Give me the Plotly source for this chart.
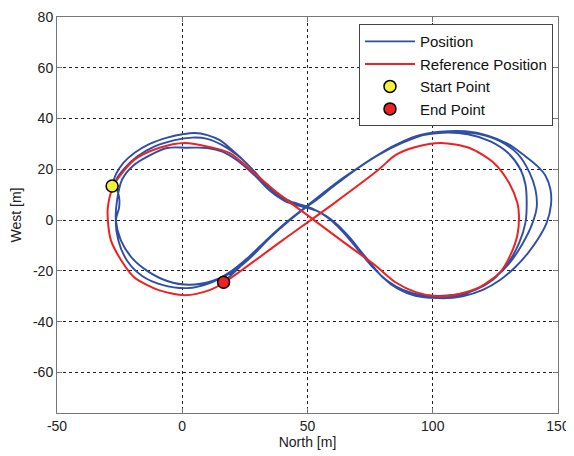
import plotly.graph_objects as go

# ---- Reference path (red) ----
ref_x = [-27.7, -25.2, -19.2, -9.4, 1.1, 10.9, 19.0, 28.3, 37.6, 52.6, 64.8, 77.0, 85.1, 93.2,
         101.3, 108.2, 118.8, 126.9, 131.0, 133.8, 134.4, 133.8, 130.5, 124.4, 114.7, 103.3,
         93.2, 85.1, 78.2, 60.7, 40.0, 16.9, 10.9, 1.1, -9.4, -19.2, -24.4, -28.5, -29.7, -29.7, -27.7]
ref_y = [13.0, 17.0, 23.7, 28.4, 30.4, 28.8, 26.4, 18.9, 11.0, 0.0, -9.0, -17.8, -24.5, -28.4,
         -30.0, -29.6, -26.4, -20.5, -13.8, -5.9, 2.0, 6.7, 14.6, 22.5, 28.4, 30.4,
         28.8, 25.6, 19.7, 6.7, -8.0, -24.5, -27.6, -29.6, -27.6, -22.5, -15.8, -7.9, 0.0, 5.1, 13.0]

# ---- Measured position (blue), three laps ----
lap1_x = [-28.0, -26.5, -23.5, -19.0, -13.0, -6.0, 0.0, 5.0, 10.0, 15.0, 20.0, 26.0, 32.0, 38.0,
          44.0, 50.0, 56.0, 62.0, 68.0, 74.0, 80.0, 86.0, 93.0, 101.0, 110.0, 118.0, 125.0, 131.0,
          136.0, 139.5, 141.5, 141.0, 138.5, 134.0, 127.0, 118.0, 108.0, 98.0, 88.0, 78.0, 68.0,
          58.0, 50.0, 43.0, 35.0, 27.0, 20.0, 12.0, 3.0, -6.0, -14.0, -20.0, -24.5, -26.5, -26.0]
lap1_y = [13.4, 18.0, 22.5, 26.5, 30.0, 32.5, 33.8, 34.3, 33.5, 31.5, 27.5, 22.0, 15.5, 10.5,
          7.0, 5.0, 2.5, -2.0, -8.5, -15.5, -22.5, -27.0, -29.8, -30.6, -29.8, -27.0, -22.5, -16.5,
          -9.0, -2.0, 5.0, 12.0, 19.0, 26.0, 31.0, 34.0, 35.0, 34.0, 30.5, 25.5, 19.0,
          11.5, 5.5, 0.0, -7.0, -15.0, -20.5, -24.0, -25.5, -24.0, -20.0, -15.0, -8.0, 0.0, 8.0]

lap2_x = [-24.0, -19.5, -13.0, -6.0, 2.0, 10.0, 16.0, 22.0, 29.0, 35.0, 41.0, 47.0, 54.0, 61.0,
          67.0, 73.0, 79.0, 85.0, 92.0, 100.0, 109.0, 117.0, 124.0, 130.0, 134.5, 137.0, 137.5,
          137.0, 135.0, 130.0, 123.0, 114.0, 104.0, 94.0, 84.0, 74.0, 64.0, 56.0, 49.0, 42.0,
          34.0, 26.0, 19.0, 11.0, 2.0, -8.0, -16.0, -22.0, -25.5, -26.5, -25.2, -25.2, -26.0]
lap2_y = [16.0, 21.5, 25.5, 28.4, 28.5, 28.4, 27.0, 23.5, 17.5, 11.5, 7.5, 5.5, 3.5, -1.0,
          -7.0, -14.5, -21.5, -26.0, -28.8, -29.8, -29.4, -27.5, -23.5, -17.0, -9.0, -1.0, 7.0,
          14.0, 20.0, 26.5, 31.0, 33.8, 34.4, 33.0, 29.0, 23.0, 16.5, 10.5, 5.0, -0.5,
          -7.5, -15.0, -20.5, -24.8, -26.8, -25.5, -22.0, -16.0, -8.0, 0.0, 5.0, 9.0, 12.0]

lap3_x = [-26.5, -23.0, -18.0, -11.0, -3.0, 4.0, 10.0, 16.0, 22.0, 28.0, 34.0, 40.0, 46.0, 52.0,
          58.0, 64.0, 70.0, 76.0, 82.0, 89.0, 96.0, 104.0, 112.0, 120.0, 127.0, 133.0, 138.0,
          142.0, 145.5, 147.2, 147.0, 145.0, 141.5, 136.5, 130.0, 122.0, 113.0, 103.0, 93.0,
          83.0, 73.0, 63.0, 55.0, 48.0, 41.0, 33.0, 25.0, 16.5]
lap3_y = [15.5, 20.5, 25.0, 29.0, 31.5, 32.5, 32.0, 29.5, 25.5, 20.0, 13.5, 8.5, 6.5, 4.5,
          1.0, -4.5, -11.5, -18.5, -24.0, -28.0, -30.0, -30.8, -30.0, -27.5, -23.5, -18.5, -13.0,
          -7.5, -1.0, 6.0, 12.0, 17.5, 21.5, 25.5, 30.0, 33.3, 35.0, 34.8, 33.0,
          28.5, 22.5, 15.5, 9.0, 4.0, -1.5, -8.5, -16.5, -24.5]

blue_x = lap1_x + lap2_x + lap3_x
blue_y = lap1_y + lap2_y + lap3_y

start_x, start_y = [-28.0], [13.4]
end_x, end_y = [16.5], [-24.5]

x_ticks = [-50, 0, 50, 100, 150]
x_labels = ["-50", "0", "50", "100", "150"]
y_ticks = [-60, -40, -20, 0, 20, 40, 60, 80]
y_labels = ["-60", "-40", "-20", "0", "20", "40", "60", "80"]

FONT = "Liberation Sans, Arial, sans-serif"
BLUE = "#2f4fa6"
RED = "#ee2222"

fig = go.Figure()
fig.add_trace(go.Scatter(x=blue_x, y=blue_y, mode="lines", name="Position",
                         line=dict(color=BLUE, width=1.9, shape="spline", smoothing=1.0)))
fig.add_trace(go.Scatter(x=ref_x, y=ref_y, mode="lines", name="Reference Position",
                         line=dict(color=RED, width=2, shape="spline", smoothing=0.8)))
fig.add_trace(go.Scatter(x=start_x, y=start_y, mode="markers", name="Start Point",
                         marker=dict(color="#f2f232", size=12, line=dict(color="black", width=1.5))))
fig.add_trace(go.Scatter(x=end_x, y=end_y, mode="markers", name="End Point",
                         marker=dict(color="#ee2020", size=12, line=dict(color="black", width=1.5))))

axis_common = dict(showgrid=True, gridcolor="#222222", griddash="3px,3px", gridwidth=1,
                   zeroline=False, showline=True, linecolor="#777777", linewidth=1, mirror="ticks",
                   ticks="inside", ticklen=5, tickcolor="#777777", automargin=False,
                   tickfont=dict(family=FONT, size=14, color="#222222"))

# the page body adds an 8px margin, so the figure is sized to fit inside it
fig.update_layout(
    width=566, height=448,
    margin=dict(l=49, r=16, t=9, b=43),
    paper_bgcolor="white", plot_bgcolor="white",
    font=dict(family=FONT, size=14, color="#222222"),
    xaxis=dict(range=[-50, 150], tickvals=x_ticks, ticktext=x_labels,
               title=dict(text="North [m]", font=dict(family=FONT, size=14), standoff=4),
               **axis_common),
    yaxis=dict(range=[-76, 80], tickvals=y_ticks, ticktext=y_labels,
               title=dict(text="West [m]", font=dict(family=FONT, size=14), standoff=10),
               **axis_common),
    legend=dict(x=0.99, xanchor="right", y=0.982, yanchor="top",
                bgcolor="white", bordercolor="#444444", borderwidth=1,
                font=dict(family=FONT, size=15, color="#111111"),
                tracegroupgap=0, itemwidth=50),
    showlegend=True,
)

fig.write_html("out.html")
